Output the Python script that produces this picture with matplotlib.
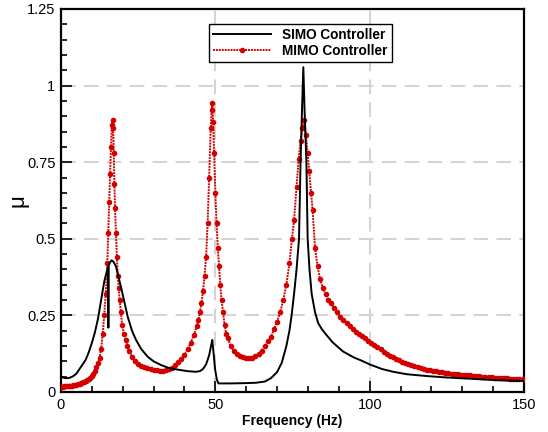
import matplotlib.pyplot as plt
from matplotlib.ticker import MultipleLocator, FuncFormatter

plt.rcParams['font.family'] = ['Liberation Sans', 'DejaVu Sans']

# SIMO controller (frequency in Hz, mu)
simo_freq = [0, 1, 2, 3, 4, 5, 6, 7, 8, 9, 10, 11, 12, 13, 14, 15.0, 15.3, 15.35, 15.4,
             16.0, 16.4, 17.0, 17.8, 18.5, 19.4, 20.5, 21.6, 23.0, 24.3, 26.0, 28.1, 30.0,
             32.4, 35.0, 38.5, 41.0, 43.6, 45.0, 46.0, 47.0, 48.0, 48.6, 49.0, 49.4, 49.9,
             50.5, 51.0, 55.0, 60.0, 63.0, 66.0, 68.0, 70.0, 71.5, 73.0, 74.0, 74.7, 75.5,
             76.3, 77.1, 77.6, 78.1, 78.5, 78.9, 79.5, 79.9, 80.5, 81.2, 82.3, 83.3, 84.5,
             86.0, 88.0, 91.4, 95.0, 97.0, 100.0, 104.0, 107.6, 112.0, 118.5, 124.0, 129.3,
             135.0, 140.0, 145.0, 150.0]
simo_mu = [0.050, 0.046, 0.045, 0.047, 0.052, 0.060, 0.075, 0.090, 0.105, 0.130, 0.160,
           0.195, 0.240, 0.300, 0.360, 0.400, 0.410, 0.210, 0.412,
           0.425, 0.430, 0.425, 0.410, 0.380, 0.344, 0.295, 0.246, 0.200, 0.170, 0.140,
           0.115, 0.100, 0.088, 0.078, 0.072, 0.068, 0.066, 0.068, 0.075, 0.090, 0.120,
           0.150, 0.170, 0.130, 0.075, 0.040, 0.028, 0.028, 0.029, 0.030, 0.034, 0.045,
           0.065, 0.095, 0.150, 0.200, 0.250, 0.320, 0.400, 0.500, 0.750, 0.930, 1.060,
           0.920, 0.750, 0.500, 0.400, 0.320, 0.260, 0.225, 0.205, 0.186, 0.162, 0.132,
           0.112, 0.104, 0.090, 0.075, 0.066, 0.058, 0.052, 0.048, 0.045, 0.042, 0.039,
           0.037, 0.036]

# MIMO controller (frequency in Hz, mu)
mimo_freq = [0.0, 0.5, 1.0, 1.5, 2.0, 2.5, 3.0, 3.5, 4.0, 4.5, 5.0, 5.5, 6.0, 6.5, 7.0,
             7.5, 8.0, 8.5, 9.0, 9.5, 10.0, 10.5, 11.0, 11.5, 12.0, 12.5, 13.0, 13.5,
             14.0, 14.5, 15.0, 15.3, 15.6, 15.9, 16.2, 16.5, 16.7, 16.9, 17.1, 17.3, 17.5,
             17.8, 18.1, 18.4, 18.7, 19.0, 19.4, 19.8, 20.3, 21.0, 21.5, 22.0, 23.0, 24.0,
             25.0, 26.0, 27.0, 28.0, 29.0, 30.0, 31.0, 32.0, 33.0, 34.0, 35.0, 36.0, 37.0,
             38.0, 39.0, 40.0, 41.0, 42.0, 43.0, 44.0, 44.5, 45.0, 45.5, 46.0, 46.5, 47.0,
             47.5, 48.0, 48.5, 48.8, 49.0, 49.3, 49.6, 50.0, 50.4, 50.8, 51.2, 51.6, 52.0,
             52.5, 53.0, 53.5, 54.0, 55.0, 56.0, 57.0, 58.0, 59.0, 60.0, 61.0, 62.0, 63.0,
             64.0, 65.0, 66.0, 67.0, 68.0, 69.0, 70.0, 71.0, 72.0, 73.0, 74.0, 74.8, 75.5,
             76.3, 77.0, 77.6, 78.2, 78.8, 79.3, 79.9, 80.4, 81.0, 81.5, 82.3, 83.1, 83.9,
             84.8, 85.7, 86.6, 87.5, 88.5, 89.5, 90.5, 91.5, 92.5, 93.5, 94.5, 95.5, 96.5,
             97.5, 98.5, 99.5, 100.5, 101.5, 102.5, 103.5, 104.5, 105.5, 106.5, 107.5,
             108.5, 109.5, 110.5, 111.5, 112.5, 113.5, 114.5, 115.5, 116.5, 117.5, 118.5,
             119.5, 120.5, 121.5, 122.5, 123.5, 124.5, 125.5, 126.5, 127.5, 128.5, 129.5,
             130.5, 131.5, 132.5, 133.5, 134.5, 135.5, 136.5, 137.5, 138.5, 139.5, 140.5,
             141.5, 142.5, 143.5, 144.5, 145.5, 146.5, 147.5, 148.5, 149.5, 150.0]
mimo_mu = [0.017, 0.017, 0.018, 0.018, 0.019, 0.020, 0.020, 0.021, 0.022, 0.023, 0.024,
           0.026, 0.027, 0.029, 0.031, 0.033, 0.036, 0.039, 0.043, 0.047, 0.052, 0.059,
           0.068, 0.080, 0.094, 0.110, 0.140, 0.190, 0.250, 0.320, 0.420, 0.520, 0.620,
           0.710, 0.800, 0.870, 0.888, 0.860, 0.780, 0.680, 0.600, 0.520, 0.440, 0.380,
           0.340, 0.300, 0.260, 0.220, 0.190, 0.170, 0.150, 0.135, 0.115, 0.100, 0.090,
           0.085, 0.080, 0.077, 0.075, 0.073, 0.071, 0.070, 0.070, 0.071, 0.074, 0.079,
           0.087, 0.097, 0.108, 0.120, 0.140, 0.160, 0.185, 0.215, 0.235, 0.260, 0.290,
           0.330, 0.380, 0.440, 0.550, 0.700, 0.860, 0.920, 0.942, 0.880, 0.780, 0.650,
           0.550, 0.470, 0.410, 0.350, 0.300, 0.260, 0.220, 0.190, 0.175, 0.150, 0.135,
           0.125, 0.117, 0.113, 0.111, 0.110, 0.112, 0.117, 0.124, 0.135, 0.150, 0.165,
           0.180, 0.205, 0.230, 0.260, 0.300, 0.350, 0.420, 0.500, 0.560, 0.670, 0.760,
           0.820, 0.860, 0.888, 0.840, 0.780, 0.720, 0.650, 0.594, 0.470, 0.410, 0.370,
           0.340, 0.320, 0.300, 0.290, 0.275, 0.260, 0.245, 0.235, 0.224, 0.214, 0.205,
           0.197, 0.190, 0.182, 0.175, 0.168, 0.161, 0.154, 0.147, 0.139, 0.132, 0.125,
           0.119, 0.113, 0.108, 0.104, 0.099, 0.095, 0.091, 0.087, 0.084, 0.081, 0.078,
           0.076, 0.073, 0.071, 0.069, 0.067, 0.065, 0.064, 0.062, 0.061, 0.060, 0.059,
           0.058, 0.057, 0.056, 0.055, 0.054, 0.053, 0.052, 0.051, 0.050, 0.050, 0.049,
           0.048, 0.047, 0.047, 0.046, 0.045, 0.045, 0.044, 0.044, 0.043, 0.043, 0.042,
           0.042]

fig = plt.figure(figsize=(5.48, 4.32), dpi=100)
ax = fig.add_axes([0.1113, 0.0926, 0.845, 0.8866])

ax.plot(mimo_freq, mimo_mu, color='#d40000', lw=1.4, ls=(0, (1, 0.5)),
        marker='o', ms=3.0, mec='#d40000', mfc='#d40000', label='MIMO Controller', zorder=3)
ax.plot(simo_freq, simo_mu, color='black', lw=1.4, label='SIMO Controller', zorder=4)

ax.set_xlim(0, 150)
ax.set_ylim(0, 1.25)
ax.xaxis.set_major_locator(MultipleLocator(50))
ax.xaxis.set_minor_locator(MultipleLocator(10))
ax.yaxis.set_major_locator(MultipleLocator(0.25))
ax.yaxis.set_minor_locator(MultipleLocator(0.05))
fmt = FuncFormatter(lambda v, p: '%g' % v)
ax.xaxis.set_major_formatter(fmt)
ax.yaxis.set_major_formatter(fmt)

ax.tick_params(which='both', direction='in', top=False, right=False, labelsize=10.5,
               width=1.2)
ax.tick_params(which='major', length=8, pad=4)
ax.tick_params(which='minor', length=4.5)
for s in ax.spines.values():
    s.set_linewidth(1.6)

for y in [0.25, 0.5, 0.75, 1.0]:
    ax.axhline(y, color='#d4d4d4', lw=1.5, ls=(0, (7, 4)), zorder=1)
for x in [50, 100]:
    ax.axvline(x, color='#d4d4d4', lw=1.5, ls=(0, (7, 4)), zorder=1)

ax.set_xlabel('Frequency (Hz)', fontsize=10, fontweight='bold', labelpad=2)
ax.set_ylabel('μ', fontsize=16)
ax.yaxis.set_label_coords(-0.07, 0.5)

handles, labels = ax.get_legend_handles_labels()
leg = ax.legend(handles[::-1], labels[::-1], loc='upper left', bbox_to_anchor=(0.304, 0.979),
                numpoints=1, handlelength=4.3, handletextpad=0.8, borderpad=0.3,
                labelspacing=0.12, fancybox=False, framealpha=1, edgecolor='black',
                prop={'weight': 'bold', 'size': 9.8})
leg.get_frame().set_linewidth(1.0)

fig.savefig('out.png', dpi=100)
